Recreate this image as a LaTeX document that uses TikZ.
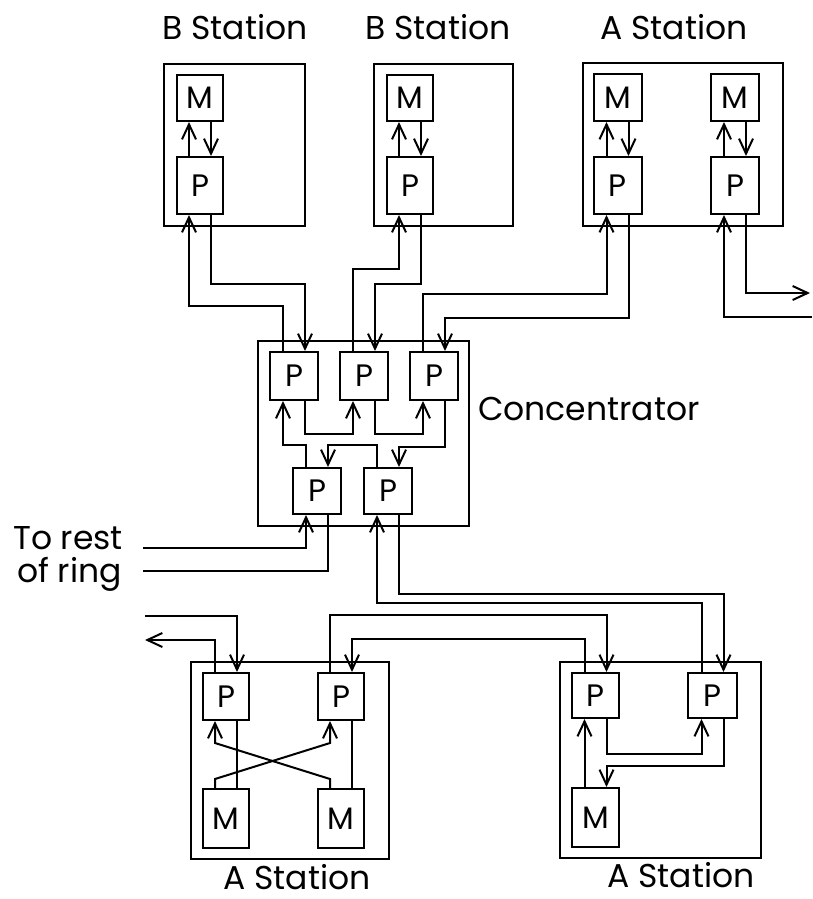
\documentclass[tikz,border=0pt]{standalone}
\usepackage{fontspec}
\setmainfont{Poppins}
\usetikzlibrary{arrows.meta,calc}
\begin{document}
\begin{tikzpicture}[x=1pt,y=-1pt,
  ln/.style={line width=2pt},
  arr/.style={line width=2pt,-{Straight Barb[length=15pt,width=14pt,line width=2pt]}},
  blk/.style={draw,line width=2pt,inner sep=0pt,font=\fontsize{31}{31}\selectfont},
  frame/.style={draw,line width=2pt,inner sep=0pt},
  lbl/.style={inner sep=0pt,font=\fontsize{33}{33}\selectfont}]
\useasboundingbox (0,0) rectangle (812,899);
% ---------- top-left B station
\node[frame,minimum width=141pt,minimum height=162pt] (tlS) at (234.5,145) {};
\node[blk,minimum width=46pt,minimum height=46pt] (tlM) at (200,98) {M};
\node[blk,minimum width=46pt,minimum height=57pt] (tlP) at (200,185.5) {P};
% ---------- top-middle B station
\node[frame,minimum width=139pt,minimum height=162pt] (tmS) at (443.5,145) {};
\node[blk,minimum width=46pt,minimum height=46pt] (tmM) at (410,98) {M};
\node[blk,minimum width=46pt,minimum height=57pt] (tmP) at (410,185.5) {P};
% ---------- top-right A station
\node[frame,minimum width=200pt,minimum height=163pt] (trS) at (683,144.5) {};
\node[blk,minimum width=48pt,minimum height=47pt] (trM1) at (617.5,97.5) {M};
\node[blk,minimum width=48pt,minimum height=57pt] (trP1) at (617.5,185.5) {P};
\node[blk,minimum width=48pt,minimum height=47pt] (trM2) at (735,97.5) {M};
\node[blk,minimum width=48pt,minimum height=57pt] (trP2) at (735,185.5) {P};
% ---------- concentrator
\node[frame,minimum width=211pt,minimum height=185pt] (cS) at (363.5,433.5) {};
\node[blk,minimum width=48pt,minimum height=48pt] (cP1) at (294,376) {P};
\node[blk,minimum width=48pt,minimum height=48pt] (cP2) at (364,376) {P};
\node[blk,minimum width=48pt,minimum height=48pt] (cP3) at (434,376) {P};
\node[blk,minimum width=48pt,minimum height=46pt] (cP4) at (317,491) {P};
\node[blk,minimum width=48pt,minimum height=46pt] (cP5) at (388,491) {P};
% ---------- bottom-left A station
\node[frame,minimum width=198pt,minimum height=197pt] (blS) at (290,760.5) {};
\node[blk,minimum width=46pt,minimum height=47pt] (blP1) at (226,696.5) {P};
\node[blk,minimum width=46pt,minimum height=47pt] (blP2) at (341,696.5) {P};
\node[blk,minimum width=46pt,minimum height=59pt] (blM1) at (226,818.5) {M};
\node[blk,minimum width=46pt,minimum height=59pt] (blM2) at (341,818.5) {M};
% ---------- bottom-right A station
\node[frame,minimum width=201pt,minimum height=196pt] (brS) at (660.5,760) {};
\node[blk,minimum width=47pt,minimum height=45pt] (brP1) at (595.5,695.5) {P};
\node[blk,minimum width=49pt,minimum height=45pt] (brP2) at (712.5,695.5) {P};
\node[blk,minimum width=47pt,minimum height=59pt] (brM) at (595.5,817.5) {M};
% ---------- labels
\node[lbl,anchor=base] (t1) at (235,40) {B Station};
\node[lbl,anchor=base] (t2) at (438,40) {B Station};
\node[lbl,anchor=base] (t3) at (674,40) {A Station};
\node[lbl,anchor=base] (t4) at (297,889) {A Station};
\node[lbl,anchor=base] (t5) at (681,887) {A Station};
\node[lbl,anchor=base west] (conc) at (478,420) {Concentrator};
\node[lbl,anchor=base west] (tr) at (13,549) {To rest};
\node[lbl,anchor=base west] (or) at (17,582) {of ring};
% ---------- free ends
\coordinate (rin) at (812,317);
\coordinate (rout) at (810,293);
\coordinate (ringin) at (143,548);
\coordinate (ringout) at (143,571);
\coordinate (lin) at (145,616);
\coordinate (lout) at (145,640);
% ---------- M/P arrows in top stations
\foreach \m/\p in {tlM/tlP,tmM/tmP,trM1/trP1,trM2/trP2}{
  \draw[arr] ([xshift=-11pt]\p.north) -- ([xshift=-11pt]\m.south);
  \draw[arr] ([xshift=11pt]\m.south) -- ([xshift=11pt]\p.north);
}
% ---------- stations to concentrator
\draw[arr] ([xshift=-11pt]cP1.north) -- ++(0,-45) -| ([xshift=-11pt]tlP.south);
\draw[arr] ([xshift=11pt]tlP.south) -- ++(0,69) -| ([xshift=11pt]cP1.north);
\draw[arr] ([xshift=-11pt]cP2.north) -- ++(0,-82) -| ([xshift=-11pt]tmP.south);
\draw[arr] ([xshift=11pt]tmP.south) -- ++(0,69) -| ([xshift=11pt]cP2.north);
\draw[arr] ([xshift=-11pt]cP3.north) -- ++(0,-57) -| ([xshift=-11pt]trP1.south);
\draw[arr] ([xshift=11pt]trP1.south) -- ++(0,103) -| ([xshift=11pt]cP3.north);
\draw[arr] (rin) -| ([xshift=-11pt]trP2.south);
\draw[arr] ([xshift=11pt]trP2.south) |- (rout);
% ---------- concentrator internal
\draw[arr] ([xshift=11pt]cP1.south) -- ++(0,33) -| ([xshift=-11pt]cP2.south);
\draw[arr] ([xshift=11pt]cP2.south) -- ++(0,33) -| ([xshift=-11pt]cP3.south);
\draw[arr] ([xshift=11pt]cP3.south) -- ++(0,46) -| ([xshift=11pt]cP5.north);
\draw[arr] ([xshift=-11pt]cP5.north) -- ++(0,-22) -| ([xshift=11pt]cP4.north);
\draw[arr] ([xshift=-11pt]cP4.north) -- ++(0,-22) -| ([xshift=-11pt]cP1.south);
% ---------- rest of ring
\draw[arr] (ringin) -| ([xshift=-11pt]cP4.south);
\draw[ln] ([xshift=11pt]cP4.south) |- (ringout);
% ---------- concentrator to bottom-right station
\draw[arr] ([xshift=-11pt]brP2.north) -- ++(0,-69) -| ([xshift=-11pt]cP5.south);
\draw[arr] ([xshift=11pt]cP5.south) -- ++(0,79) -| ([xshift=11pt]brP2.north);
% ---------- between bottom stations
\draw[arr] ([xshift=-11pt]blP2.north) -- ++(0,-57) -| ([xshift=11pt]brP1.north);
\draw[arr] ([xshift=-11pt]brP1.north) -- ++(0,-33) -| ([xshift=11pt]blP2.north);
\draw[arr] (lin) -| ([xshift=11pt]blP1.north);
\draw[arr] ([xshift=-11pt]blP1.north) |- (lout);
% ---------- bottom-left internal
\draw[ln] ([xshift=11pt]blP1.south) -- ([xshift=11pt]blM1.north);
\draw[ln] ([xshift=11pt]blP2.south) -- ([xshift=11pt]blM2.north);
\draw[arr] ([xshift=-11pt]blM1.north) -- ++(0,-9) -- ($([xshift=-11pt]blP2.south)+(0,22)$) -- ([xshift=-11pt]blP2.south);
\draw[arr] ([xshift=-11pt]blM2.north) -- ++(0,-9) -- ($([xshift=-11pt]blP1.south)+(0,22)$) -- ([xshift=-11pt]blP1.south);
% ---------- bottom-right internal
\draw[arr] ([xshift=-11pt]brM.north) -- ([xshift=-11pt]brP1.south);
\draw[arr] ([xshift=11pt]brP1.south) -- ++(0,35) -| ([xshift=-11pt]brP2.south);
\draw[arr] ([xshift=11pt]brP2.south) -- ++(0,47) -| ([xshift=11pt]brM.north);
\end{tikzpicture}
\end{document}
